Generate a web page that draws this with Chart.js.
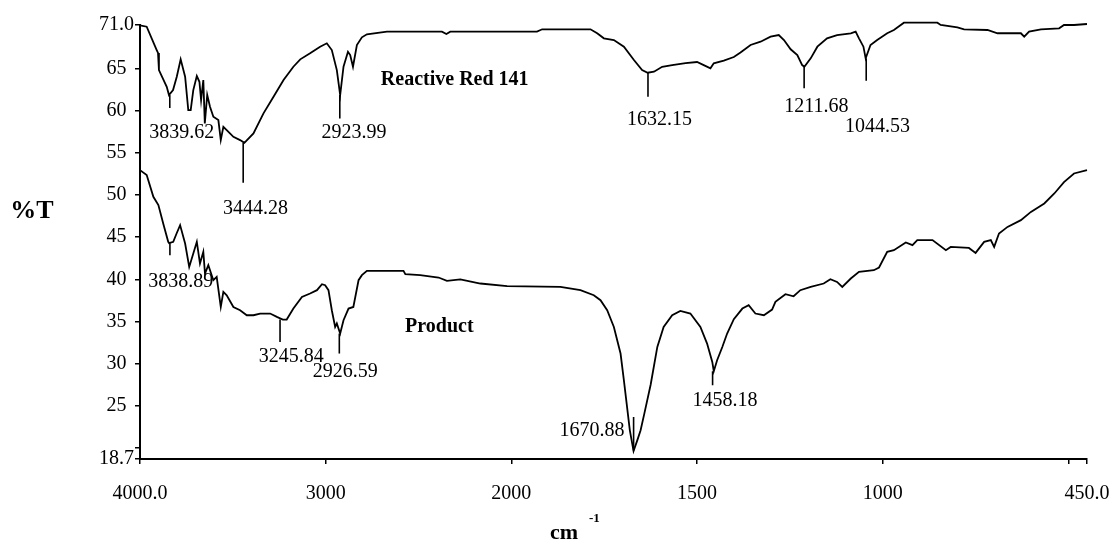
<!DOCTYPE html>
<html>
<head>
<meta charset="utf-8">
<script src="https://cdn.jsdelivr.net/npm/chart.js@4.4.1/dist/chart.umd.min.js"></script>
<style>
  html, body { margin: 0; padding: 0; background: #fff; }
  #wrap { width: 1112px; height: 542px; }
</style>
</head>
<body>
<div id="wrap"><canvas id="ir" width="1112" height="542"></canvas></div>
<script>
// Reactive Red 141 spectrum: wavenumber (cm-1) / %T
const rrWavenumber = [4000, 3964, 3910, 3903, 3898, 3856, 3844, 3822, 3802, 3781, 3757, 3740, 3727, 3713, 3694, 3680,
  3671, 3659, 3651, 3638, 3623, 3605, 3578, 3565, 3551, 3533, 3497, 3461, 3438, 3389, 3335, 3281, 3227, 3174, 3137,
  3084, 3030, 2994, 2967, 2940, 2922, 2904, 2880, 2868, 2853, 2832, 2805, 2778, 2670, 2374, 2350, 2329, 1931, 1917,
  1787, 1769, 1751, 1724, 1697, 1670, 1648, 1633, 1616, 1594, 1567, 1531, 1500, 1482, 1464, 1455, 1428, 1401, 1383,
  1356, 1329, 1302, 1280, 1266, 1248, 1230, 1217, 1211, 1194, 1176, 1150, 1123, 1086, 1073, 1064, 1052, 1046, 1033,
  1015, 988, 970, 943, 853, 844, 799, 781, 718, 691, 628, 619, 606, 574, 525, 512, 485, 450];
const rrTransmittance = [70.1, 69.94, 67.17, 66.82, 64.8, 62.82, 61.84, 62.43, 64.01, 66.07, 64.01, 60.06, 60.06, 62.43,
  64.09, 63.41, 61.24, 63.62, 58.48, 61.84, 60.45, 59.27, 58.87, 56.5, 58.08, 57.68, 56.89, 56.5, 56.18, 57.29, 59.67,
  61.63, 63.62, 65.19, 66.07, 66.78, 67.57, 67.97, 67.17, 64.8, 61.84, 65.19, 66.97, 66.58, 65.19, 67.77, 68.68, 69.04,
  69.35, 69.35, 69.07, 69.35, 69.35, 69.63, 69.63, 69.16, 68.56, 68.36, 67.57, 65.99, 64.8, 64.48, 64.6, 65.19, 65.39,
  65.63, 65.75, 65.39, 65.0, 65.6, 65.91, 66.34, 66.88, 67.77, 68.16, 68.75, 68.95, 68.36, 67.26, 66.58, 65.39, 65.19,
  66.19, 67.57, 68.56, 68.95, 69.16, 69.35, 68.56, 67.57, 66.19, 67.77, 68.36, 69.16, 69.55, 70.41, 70.41, 70.14, 69.87,
  69.63, 69.55, 69.16, 69.16, 68.75, 69.35, 69.63, 69.75, 70.14, 70.14, 70.26];

// Product spectrum
const productWavenumber = [4000, 3964, 3928, 3901, 3875, 3848, 3843, 3821, 3803, 3784, 3757, 3735, 3713, 3694, 3677,
  3659, 3650, 3632, 3605, 3587, 3565, 3551, 3533, 3497, 3461, 3425, 3389, 3353, 3299, 3263, 3231, 3210, 3174, 3128,
  3084, 3047, 3020, 3003, 2985, 2967, 2949, 2940, 2922, 2904, 2877, 2851, 2823, 2805, 2778, 2581, 2571, 2491, 2392,
  2347, 2275, 2167, 2023, 1868, 1814, 1778, 1760, 1742, 1724, 1706, 1697, 1681, 1671, 1661, 1652, 1642, 1625, 1607,
  1590, 1567, 1545, 1518, 1491, 1473, 1459, 1455, 1446, 1432, 1419, 1401, 1378, 1361, 1343, 1320, 1298, 1289, 1262,
  1240, 1222, 1194, 1159, 1141, 1123, 1109, 1086, 1064, 1024, 1010, 988, 970, 938, 920, 907, 866, 830, 817, 768, 750,
  727, 709, 700, 687, 664, 628, 601, 565, 538, 512, 485, 450];
const productTransmittance = [52.94, 52.35, 49.78, 48.79, 46.62, 44.44, 44.28, 44.44, 45.43, 46.42, 44.24, 41.47, 43.06,
  44.44, 41.87, 43.25, 40.68, 41.67, 39.89, 40.28, 36.72, 38.5, 38.11, 36.72, 36.33, 35.74, 35.74, 35.94, 35.94, 35.54,
  35.23, 35.23, 36.53, 37.91, 38.31, 38.71, 39.42, 39.3, 38.71, 36.33, 34.35, 34.76, 33.57, 35.15, 36.53, 36.72, 39.89,
  40.49, 41.0, 41.0, 40.6, 40.49, 40.21, 39.81, 39.98, 39.5, 39.18, 39.1, 38.71, 38.11, 37.52, 36.33, 34.35, 31.2,
  28.03, 22.1, 19.64, 20.91, 22.1, 24.08, 27.5, 31.98, 34.35, 35.74, 36.25, 35.94, 34.35, 32.38, 30.2, 29.1, 30.4,
  31.98, 33.57, 35.27, 36.53, 36.93, 35.94, 35.74, 36.41, 37.32, 38.23, 37.99, 38.71, 39.1, 39.5, 40.01, 39.69, 39.1,
  40.09, 40.88, 41.08, 41.4, 43.25, 43.45, 44.36, 44.04, 44.64, 44.64, 43.45, 43.84, 43.72, 43.13, 44.44, 44.64, 43.84,
  45.43, 46.21, 47.01, 47.99, 48.99, 50.17, 51.51, 52.54, 52.94];

const xTickValues = [4000, 3000, 2000, 1500, 1000, 500, 450];
const xTickLabels = ["4000.0", "3000", "2000", "1500", "1000", "", "450.0"];
const yTickValues = [18.7, 20, 25, 30, 35, 40, 45, 50, 55, 60, 65, 70.14];
const yTickLabels = ["18.7", "", "25", "30", "35", "40", "45", "50", "55", "60", "65", "71.0"];

// peak markers: wavenumber, and the %T span of the little vertical stroke
const peakWavenumber = [3839.62, 3444.28, 2923.99, 1632.15, 1211.68, 1044.53, 3838.89, 3245.84, 2926.59, 1670.88, 1458.18];
const peakTop = [61.84, 56.18, 61.84, 64.48, 65.19, 66.19, 44.28, 35.23, 33.57, 23.68, 29.1];
const peakBottom = [60.3, 51.43, 59.07, 61.63, 62.63, 63.53, 42.86, 32.57, 31.2, 19.7, 27.44];
const peakLabels = ["3839.62", "3444.28", "2923.99", "1632.15", "1211.68", "1044.53",
  "3838.89", "3245.84", "2926.59", "1670.88", "1458.18"];
const seriesNames = ["Reactive Red 141", "Product"];

// where the texts sit, in chart units (wavenumber, %T)
const peakLabelAt = [[3775, 57.33], [3378, 48.31], [2847, 57.33], [1601, 58.87], [1179, 60.41], [1014, 58.04],
  [3780, 39.69], [3185, 30.79], [2895, 29.01], [1783, 22.1], [1425, 25.57]];
const seriesNameAt = [[2305, 63.62], [2388, 34.35]];

const SPLIT = 2000; // below 2000 cm-1 the instrument doubles the x scale

class SplitWavenumberScale extends Chart.LinearScale {
    _spans() {
        return [this.max - SPLIT, 2 * (SPLIT - this.min)];
    }
    getPixelForValue(v) {
        const [hi, lo] = this._spans();
        const u = v >= SPLIT ? this.max - v : hi + 2 * (SPLIT - v);
        return this.getPixelForDecimal(u / (hi + lo));
    }
    getValueForPixel(p) {
        const [hi, lo] = this._spans();
        const u = this.getDecimalForPixel(p) * (hi + lo);
        return u <= hi ? this.max - u : SPLIT - (u - hi) / 2;
    }
}
SplitWavenumberScale.id = "splitWavenumber";
Chart.register(SplitWavenumberScale);

const SERIF = '"Liberation Serif", "Times New Roman", serif';

const irAnnotations = {
    id: "irAnnotations",
    afterDatasetsDraw(chart) {
        const {ctx, chartArea, scales: {x, y}} = chart;
        ctx.save();
        ctx.strokeStyle = "#000";
        ctx.lineWidth = 1.6;
        peakWavenumber.forEach((wn, i) => {
            const px = x.getPixelForValue(wn);
            ctx.beginPath();
            ctx.moveTo(px, y.getPixelForValue(peakTop[i]));
            ctx.lineTo(px, y.getPixelForValue(peakBottom[i]));
            ctx.stroke();
        });

        ctx.fillStyle = "#000";
        ctx.textAlign = "center";
        ctx.textBaseline = "middle";
        ctx.font = "20px " + SERIF;
        peakLabels.forEach((t, i) => {
            const [wn, v] = peakLabelAt[i];
            ctx.fillText(t, x.getPixelForValue(wn), y.getPixelForValue(v));
        });
        ctx.font = "bold 20px " + SERIF;
        seriesNames.forEach((t, i) => {
            const [wn, v] = seriesNameAt[i];
            ctx.fillText(t, x.getPixelForValue(wn), y.getPixelForValue(v));
        });

        // axis titles
        ctx.font = "bold 26px " + SERIF;
        ctx.fillText("%T", 32, chartArea.top + 186);
        ctx.textAlign = "left";
        ctx.textBaseline = "alphabetic";
        ctx.font = "bold 22px " + SERIF;
        ctx.fillText("cm", chartArea.left + 410, 539);
        ctx.font = "bold 13px " + SERIF;
        ctx.fillText("-1", chartArea.left + 449, 522);
        ctx.restore();
    }
};

const lineStyle = {
    borderColor: "#000",
    borderWidth: 1.8,
    pointRadius: 0,
    tension: 0,
    fill: false,
    clip: false,
};

new Chart(document.getElementById("ir"), {
    type: "line",
    data: {
        datasets: [
            {label: seriesNames[0], data: rrWavenumber.map((wn, i) => ({x: wn, y: rrTransmittance[i]})), ...lineStyle},
            {label: seriesNames[1], data: productWavenumber.map((wn, i) => ({x: wn, y: productTransmittance[i]})), ...lineStyle},
        ],
    },
    options: {
        responsive: false,
        animation: false,
        events: [],
        layout: {padding: {left: 0, right: 25, top: 25, bottom: 0}},
        plugins: {
            legend: {display: false},
            tooltip: {enabled: false},
        },
        scales: {
            x: {
                type: "splitWavenumber",
                min: 450,
                max: 4000,
                afterBuildTicks: (scale) => { scale.ticks = xTickValues.map(v => ({value: v})); },
                afterFit: (scale) => {
                    scale.height = 83;
                    scale.paddingLeft = 0;
                    scale.paddingRight = 0;
                },
                border: {display: true, color: "#000", width: 2},
                grid: {display: true, drawOnChartArea: false, drawTicks: true, tickLength: 5, color: "#000", lineWidth: 1.5},
                ticks: {
                    autoSkip: false,
                    maxRotation: 0,
                    padding: 18,
                    color: "#000",
                    font: {family: SERIF, size: 20},
                    callback: (value, index) => xTickLabels[index],
                },
            },
            y: {
                type: "linear",
                min: 18.7,
                max: 70.14,
                afterBuildTicks: (scale) => { scale.ticks = yTickValues.map(v => ({value: v})); },
                afterFit: (scale) => {
                    scale.width = 140;
                    scale.paddingTop = 0;
                    scale.paddingBottom = 0;
                },
                border: {display: true, color: "#000", width: 2},
                grid: {display: true, drawOnChartArea: false, drawTicks: true, tickLength: 5, color: "#000", lineWidth: 1.5},
                ticks: {
                    autoSkip: false,
                    crossAlign: "center",
                    padding: 1,
                    color: "#000",
                    font: {family: SERIF, size: 20},
                    callback: (value, index) => yTickLabels[index],
                },
            },
        },
    },
    plugins: [irAnnotations],
});
</script>
</body>
</html>
